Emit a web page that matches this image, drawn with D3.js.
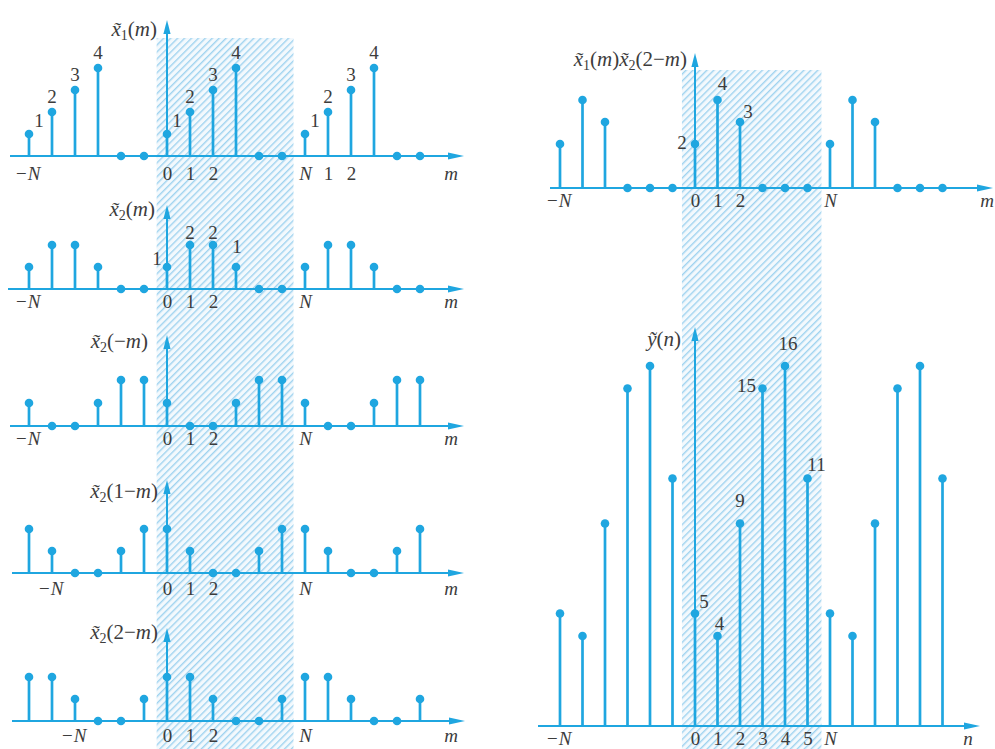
<!DOCTYPE html>
<html>
<head>
<meta charset="utf-8">
<script src="https://cdn.jsdelivr.net/npm/d3@7/dist/d3.min.js"></script>
<style>
  body { margin: 0; background: #fff; }
  svg { display: block; }
  text { font-family: "Liberation Serif", "DejaVu Serif", serif; fill: #3c3c3c; }
</style>
</head>
<body>
<svg id="chart" width="995" height="749"></svg>
<script>
// Sample index m (or n), three periods of N = 6
const sampleIndex = [-6, -5, -4, -3, -2, -1, 0, 1, 2, 3, 4, 5, 6, 7, 8, 9, 10, 11];

// Periodic sequences
const x1Values      = [1, 2, 3, 4, 0, 0, 1, 2, 3, 4, 0, 0, 1, 2, 3, 4, 0, 0];
const x2Values      = [1, 2, 2, 1, 0, 0, 1, 2, 2, 1, 0, 0, 1, 2, 2, 1, 0, 0];
const x2Reversed    = [1, 0, 0, 1, 2, 2, 1, 0, 0, 1, 2, 2, 1, 0, 0, 1, 2, 2];
const x2Shift1      = [2, 1, 0, 0, 1, 2, 2, 1, 0, 0, 1, 2, 2, 1, 0, 0, 1, 2];
const x2Shift2      = [2, 2, 1, 0, 0, 1, 2, 2, 1, 0, 0, 1, 2, 2, 1, 0, 0, 1];
const productValues = [2, 4, 3, 0, 0, 0, 2, 4, 3, 0, 0, 0, 2, 4, 3, 0, 0, 0];
const yValues       = [5, 4, 9, 15, 16, 11, 5, 4, 9, 15, 16, 11, 5, 4, 9, 15, 16, 11];

// Tick labels under each axis: [index, label]
const ticksX1      = [[-6, "−N"], [0, "0"], [1, "1"], [2, "2"], [6, "N"], [7, "1"], [8, "2"]];
const ticksX2      = [[-6, "−N"], [0, "0"], [1, "1"], [2, "2"], [6, "N"]];
const ticksX2Rev   = [[-6, "−N"], [0, "0"], [1, "1"], [2, "2"], [6, "N"]];
const ticksShift1  = [[-5, "−N"], [0, "0"], [1, "1"], [2, "2"], [6, "N"]];
const ticksShift2  = [[-4, "−N"], [0, "0"], [1, "1"], [2, "2"], [6, "N"]];
const ticksProduct = [[-6, "−N"], [0, "0"], [1, "1"], [2, "2"], [6, "N"]];
const ticksY       = [[-6, "−N"], [0, "0"], [1, "1"], [2, "2"], [3, "3"], [4, "4"], [5, "5"], [6, "N"]];

// Indices whose value is written next to the sample
const labelsX1      = [-6, -5, -4, -3, 0, 1, 2, 3, 6, 7, 8, 9];
const labelsX2      = [0, 1, 2, 3];
const labelsProduct = [0, 1, 2];
const labelsY       = [0, 1, 2, 3, 4, 5];

// Panel titles as [text, style] pieces: i = italic, s = subscript, "" = upright
const titleX1      = [["x\u0303", "i"], ["1", "s"], ["(", ""], ["m", "i"], [")", ""]];
const titleX2      = [["x\u0303", "i"], ["2", "s"], ["(", ""], ["m", "i"], [")", ""]];
const titleX2Rev   = [["x\u0303", "i"], ["2", "s"], ["(−", ""], ["m", "i"], [")", ""]];
const titleShift1  = [["x\u0303", "i"], ["2", "s"], ["(1−", ""], ["m", "i"], [")", ""]];
const titleShift2  = [["x\u0303", "i"], ["2", "s"], ["(2−", ""], ["m", "i"], [")", ""]];
const titleProduct = [["x\u0303", "i"], ["1", "s"], ["(", ""], ["m", "i"], [")", ""],
                      ["x\u0303", "i"], ["2", "s"], ["(2−", ""], ["m", "i"], [")", ""]];
const titleY       = [["y\u0303", "i"], ["(", ""], ["n", "i"], [")", ""]];

const BLUE = "#1fa6e0";
const svg = d3.select("#chart");

// Hatch pattern for the principal period
const defs = svg.append("defs");
const pat = defs.append("pattern")
  .attr("id", "hatch").attr("patternUnits", "userSpaceOnUse")
  .attr("width", 4.9).attr("height", 10)
  .attr("patternTransform", "rotate(45)");
pat.append("rect").attr("width", 4.9).attr("height", 10).attr("fill", "#f3f9fd");
pat.append("line").attr("x1", 0.7).attr("y1", 0).attr("x2", 0.7).attr("y2", 10)
  .attr("stroke", "#9fd3ef").attr("stroke-width", 1.4);

// Column geometry (index -> pixel)
const leftX  = d3.scaleLinear().domain([0, 6]).range([167, 305]);
const rightX = d3.scaleLinear().domain([0, 6]).range([695, 830]);

svg.append("rect").attr("x", leftX(-0.45)).attr("y", 38)
  .attr("width", leftX(5.5) - leftX(-0.45)).attr("height", 711).attr("fill", "url(#hatch)");
svg.append("rect").attr("x", rightX(-0.58)).attr("y", 70)
  .attr("width", rightX(5.62) - rightX(-0.58)).attr("height", 679).attr("fill", "url(#hatch)");

const panels = [
  { values: x1Values, ticks: ticksX1, labels: labelsX1, title: titleX1, x: leftX,
    base: 156, unit: 22, tip: 20, axisFrom: 10, axisTo: 464, varLabel: "m",
    varX: 451, tickPad: 10.5, titleDx: -10, titleY: 36,
    labelOffset: { "-6": [10, -7], "0": [10, -7], "6": [10, -7] } },
  { values: x2Values, ticks: ticksX2, labels: labelsX2, title: titleX2, x: leftX,
    base: 289, unit: 22, tip: 205, axisFrom: 8, axisTo: 464, varLabel: "m",
    varX: 451, tickPad: 5.5, titleDx: -12, titleY: 216,
    labelOffset: { "0": [-10, -2], "1": [0, -6], "2": [0, -6], "3": [1, -14] } },
  { values: x2Reversed, ticks: ticksX2Rev, labels: [], title: titleX2Rev, x: leftX,
    base: 426, unit: 23, tip: 335, axisFrom: 10, axisTo: 464, varLabel: "m",
    varX: 451, tickPad: 5.5, titleDx: -19, titleY: 348, labelOffset: {} },
  { values: x2Shift1, ticks: ticksShift1, labels: [], title: titleShift1, x: leftX,
    base: 573, unit: 22, tip: 480, axisFrom: 12, axisTo: 464, varLabel: "m",
    varX: 451, tickPad: 8.5, titleDx: -9, titleY: 498, labelOffset: {} },
  { values: x2Shift2, ticks: ticksShift2, labels: [], title: titleShift2, x: leftX,
    base: 721, unit: 22, tip: 628, axisFrom: 12, axisTo: 465, varLabel: "m",
    varX: 451, tickPad: 7.5, titleDx: -9, titleY: 639, labelOffset: {} },
  { values: productValues, ticks: ticksProduct, labels: labelsProduct, title: titleProduct, x: rightX,
    base: 188, unit: 22, tip: 53, axisFrom: 550, axisTo: 993, varLabel: "m",
    varX: 987, tickPad: 5.5, titleDx: -8, titleY: 66,
    labelOffset: { "0": [-13, 5], "1": [5, -10], "2": [8, -4] } },
  { values: yValues, ticks: ticksY, labels: labelsY, title: titleY, x: rightX,
    base: 726, unit: 22.5, tip: 327, axisFrom: 538, axisTo: 980, varLabel: "n",
    varX: 968, tickPad: 5.5, titleDx: -14, titleY: 346,
    labelOffset: { "0": [9, -6], "1": [2, -6], "2": [0, -17], "3": [-16, 3], "4": [3, -16], "5": [9, -8] } }
];

panels.forEach(p => {
  const g = svg.append("g");
  const x = p.x;
  const y = d3.scaleLinear().domain([0, 1]).range([p.base, p.base - p.unit]);
  const pts = sampleIndex.map((k, i) => ({ k, v: p.values[i] }));
  const tickMap = new Map(p.ticks);

  // Horizontal axis with arrow
  g.append("line").attr("x1", p.axisFrom).attr("x2", p.axisTo - 12)
    .attr("y1", p.base).attr("y2", p.base).attr("stroke", BLUE).attr("stroke-width", 2);
  g.append("path")
    .attr("d", `M${p.axisTo},${p.base} L${p.axisTo - 16},${p.base - 3.6} L${p.axisTo - 16},${p.base + 3.6} Z`)
    .attr("fill", BLUE);

  // Vertical axis with arrow
  const x0 = x(0);
  g.append("line").attr("x1", x0).attr("x2", x0).attr("y1", p.base).attr("y2", p.tip + 10)
    .attr("stroke", BLUE).attr("stroke-width", 2);
  g.append("path")
    .attr("d", `M${x0},${p.tip} L${x0 - 3.6},${p.tip + 14} L${x0 + 3.6},${p.tip + 14} Z`)
    .attr("fill", BLUE);

  // Tick labels
  const axis = d3.axisBottom(x)
    .tickValues(p.ticks.map(d => d[0]))
    .tickFormat(d => tickMap.get(d))
    .tickSize(0).tickPadding(p.tickPad);
  const ax = g.append("g").attr("transform", `translate(0,${p.base})`).call(axis);
  ax.attr("font-family", null).attr("font-size", null);
  ax.select(".domain").remove();
  ax.selectAll("text")
    .style("font-size", "19px").attr("fill", "#3c3c3c")
    .style("font-style", d => /N/.test(tickMap.get(d)) ? "italic" : "normal");
  ax.selectAll("text").filter(d => tickMap.get(d) === "−N").attr("dx", "-0.1em");

  // Variable name at the end of the axis
  g.append("text").attr("x", p.varX).attr("y", p.base + p.tickPad + 13.5)
    .attr("text-anchor", "middle").style("font-size", "19px").style("font-style", "italic")
    .text(p.varLabel);

  // Stems and dots
  g.selectAll(".stem").data(pts.filter(d => d.v !== 0)).join("line")
    .attr("x1", d => x(d.k)).attr("x2", d => x(d.k))
    .attr("y1", p.base).attr("y2", d => y(d.v))
    .attr("stroke", BLUE).attr("stroke-width", 2.7);
  g.selectAll(".dot").data(pts).join("circle")
    .attr("cx", d => x(d.k)).attr("cy", d => y(d.v)).attr("r", 4.3)
    .attr("fill", BLUE);

  // Value labels
  g.selectAll(".val").data(p.labels).join("text")
    .attr("x", k => x(k) + (p.labelOffset[k] || [0, -9])[0])
    .attr("y", k => y(p.values[sampleIndex.indexOf(k)]) + (p.labelOffset[k] || [0, -9])[1])
    .attr("text-anchor", "middle").style("font-size", "19px")
    .text(k => p.values[sampleIndex.indexOf(k)]);

  // Panel title
  const t = g.append("text").attr("x", x0 + p.titleDx).attr("y", p.titleY)
    .attr("text-anchor", "end").style("font-size", "21px");
  let sub = false;
  p.title.forEach(([txt, st]) => {
    const ts = t.append("tspan").text(txt);
    if (st === "i") ts.style("font-style", "italic");
    if (st === "s") { ts.style("font-size", "14px").attr("dy", 4); sub = true; }
    else if (sub) { ts.attr("dy", -4); sub = false; }
  });
});
</script>
</body>
</html>
